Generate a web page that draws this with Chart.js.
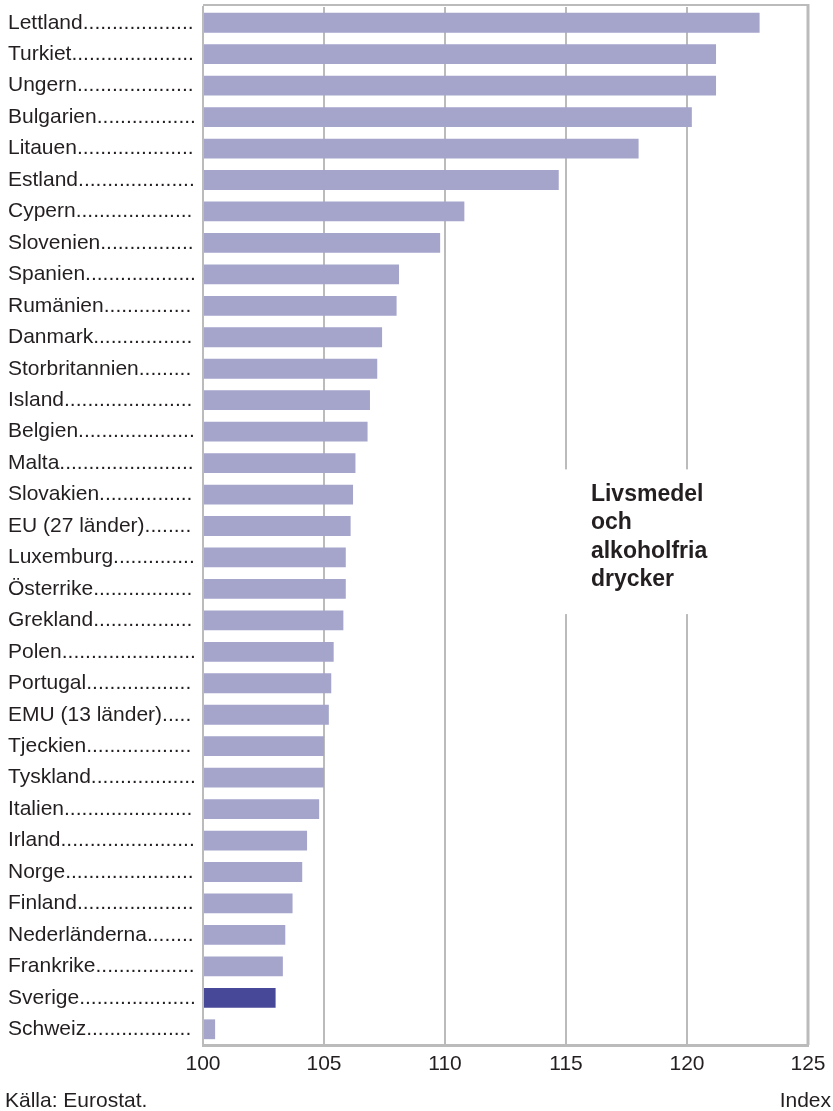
<!DOCTYPE html>
<html>
<head>
<meta charset="utf-8">
<script src="https://cdn.jsdelivr.net/npm/chart.js@4.4.1/dist/chart.umd.min.js"></script>
<style>
  html, body { margin: 0; padding: 0; background: #ffffff; }
  #wrap { position: relative; width: 833px; height: 1111px; }
  .note { position: absolute; font-family: "Liberation Sans", Arial, sans-serif; font-size: 21px; color: #231f20; line-height: 24px; }
</style>
</head>
<body>
<div id="wrap">
  <canvas id="chart" width="833" height="1111"></canvas>
  <div class="note" id="kalla" style="left:5px; top:1088px;">Källa: Eurostat.</div>
  <div class="note" id="index" style="right:2px; top:1088px;">Index</div>
</div>
<script>
const LANDER = ["Lettland", "Turkiet", "Ungern", "Bulgarien", "Litauen", "Estland", "Cypern", "Slovenien",
  "Spanien", "Rumänien", "Danmark", "Storbritannien", "Island", "Belgien", "Malta", "Slovakien",
  "EU (27 länder)", "Luxemburg", "Österrike", "Grekland", "Polen", "Portugal", "EMU (13 länder)",
  "Tjeckien", "Tyskland", "Italien", "Irland", "Norge", "Finland", "Nederländerna", "Frankrike",
  "Sverige", "Schweiz"]
const VARDEN = [123.0, 121.2, 121.2, 120.2, 118.0, 114.7, 110.8, 109.8,
  108.1, 108.0, 107.4, 107.2, 106.9, 106.8, 106.3, 106.2,
  106.1, 105.9, 105.9, 105.8, 105.4, 105.3, 105.2,
  105.0, 105.0, 104.8, 104.3, 104.1, 103.7, 103.4, 103.3,
  103.0, 100.5]
const X_TICKS = [100, 105, 110, 115, 120, 125]
const RUBRIK = ["Livsmedel", "och", "alkoholfria", "drycker"]
const MARKERAD = "Sverige"

const FONT = '"Liberation Sans", Arial, sans-serif'
const TEXTFARG = "#231f20"
const GRID = "#bbbbbb"

// punkter efter landnamnet, fram till axeln
const mctx = document.createElement("canvas").getContext("2d")
mctx.font = "21px " + FONT
function medPunkter(namn) {
    let s = namn
    while (mctx.measureText(s + ".").width <= 189) s += "."
    return s
}

const farger = LANDER.map(l => l === MARKERAD ? "#484899" : "#a5a5cc")

const ramPlugin = {
    id: "ram",
    beforeDatasetsDraw(chart) {
        let a = chart.chartArea
        let c = chart.ctx
        c.save()
        c.strokeStyle = GRID
        c.lineWidth = 2
        c.beginPath()
        c.moveTo(a.left, a.top - 2)
        c.lineTo(a.right, a.top - 2)
        c.stroke()
        c.lineWidth = 3
        c.beginPath()
        c.moveTo(a.right, a.top - 3)
        c.lineTo(a.right, a.bottom)
        c.stroke()
        c.restore()
    }
}

const rubrikPlugin = {
    id: "rubrik",
    afterDraw(chart) {
        let x = chart.scales.x
        let y = chart.scales.y
        let c = chart.ctx
        c.save()
        c.fillStyle = "#ffffff"
        let x0 = x.getPixelForValue(114.5), x1 = x.getPixelForValue(120.5)
        let y0 = y.getPixelForValue(14.2), y1 = y.getPixelForValue(18.8)
        c.fillRect(x0, y0, x1 - x0, y1 - y0)
        c.fillStyle = TEXTFARG
        c.font = "bold 23px " + FONT
        c.textBaseline = "alphabetic"
        let tx = x.getPixelForValue(116.03)
        let ty = y.getPixelForValue(15.2)
        RUBRIK.forEach((rad, i) => c.fillText(rad, tx, ty + i * 28.5))
        c.restore()
    }
}

new Chart(document.getElementById("chart"), {
    type: "bar",
    data: {
        labels: LANDER,
        datasets: [{
            data: VARDEN,
            backgroundColor: farger,
            borderWidth: 0,
            base: 100,
            categoryPercentage: 1,
            barPercentage: 0.63
        }]
    },
    options: {
        indexAxis: "y",
        responsive: false,
        animation: false,
        devicePixelRatio: 1,
        layout: { padding: { left: 8, top: 7, right: 25, bottom: 36 } },
        plugins: { legend: { display: false }, tooltip: { enabled: false } },
        scales: {
            x: {
                min: 100,
                max: 125,
                afterBuildTicks: s => { s.ticks = X_TICKS.map(v => ({ value: v })) },
                afterFit: s => { s.height = 30; s.paddingLeft = 0; s.paddingRight = 0 },
                grid: { color: GRID, lineWidth: 2, drawTicks: false },
                border: { color: GRID, width: 3 },
                ticks: { font: { family: FONT, size: 21 }, color: TEXTFARG, padding: 7, maxRotation: 0 }
            },
            y: {
                afterFit: s => { s.width = 195; s.paddingTop = 0; s.paddingBottom = 0 },
                grid: { display: false },
                border: { color: GRID, width: 2 },
                ticks: {
                    crossAlign: "far",
                    padding: 6,
                    autoSkip: false,
                    font: { family: FONT, size: 21 },
                    color: TEXTFARG,
                    callback: function (v) { return medPunkter(this.getLabelForValue(v)) }
                }
            }
        }
    },
    plugins: [ramPlugin, rubrikPlugin]
})
</script>
</body>
</html>
